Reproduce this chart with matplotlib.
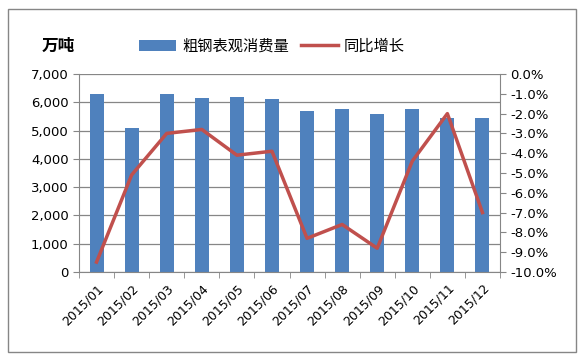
import numpy as np
import matplotlib
matplotlib.use('Agg')
from matplotlib import pyplot as plt
from matplotlib.patches import Rectangle
from matplotlib.ticker import FuncFormatter, FixedLocator

plt.rcParams['font.family'] = ['Noto Sans CJK SC', 'DejaVu Sans']

months = ['2015/01', '2015/02', '2015/03', '2015/04', '2015/05', '2015/06',
          '2015/07', '2015/08', '2015/09', '2015/10', '2015/11', '2015/12']
consumption = [6300, 5100, 6300, 6140, 6170, 6100, 5700, 5780, 5580, 5780, 5430, 5430]
yoy = [-9.5, -5.1, -3.0, -2.8, -4.1, -3.9, -8.3, -7.6, -8.8, -4.4, -2.0, -7.0]

bar_color = '#4f81bd'
line_color = '#c0504d'
axis_gray = '#868686'

fig = plt.figure(figsize=(5.85, 3.6), dpi=100)
ax = fig.add_axes([79 / 585, 1 - 272 / 360, 421 / 585, 198 / 360])
x = np.arange(len(months))

ax.bar(x, consumption, width=0.4, color=bar_color, zorder=2, label='粗钢表观消费量')
ax.set_xlim(-0.5, len(months) - 0.5)
ax.set_ylim(0, 7000)
ax.set_yticks(np.arange(0, 7001, 1000))
ax.yaxis.set_major_formatter(FuncFormatter(lambda v, p: f'{int(v):,}'))
ax.grid(axis='y', color=axis_gray, linewidth=0.9, zorder=0)
ax.set_xticks(x)
ax.set_xticklabels(months, rotation=45, ha='right', rotation_mode='anchor')
ax.xaxis.set_minor_locator(FixedLocator(np.arange(-0.5, len(months), 1)))
ax.tick_params(axis='x', which='major', length=0, labelsize=9, pad=7)
ax.tick_params(axis='x', which='minor', length=4, color=axis_gray)
ax.tick_params(axis='y', length=4, color=axis_gray, labelsize=9.5)
for s in ['top', 'right']:
    ax.spines[s].set_visible(False)
for s in ['left', 'bottom']:
    ax.spines[s].set_color(axis_gray)

ax2 = ax.twinx()
ax2.plot(x, yoy, color=line_color, linewidth=2.5, zorder=3, label='同比增长')
ax2.set_ylim(-10, 0)
ax2.set_yticks(np.arange(-10, 0.1, 1))
ax2.yaxis.set_major_formatter(FuncFormatter(lambda v, p: f'{v:.1f}%'))
ax2.tick_params(axis='y', length=4, color=axis_gray, labelsize=9.5)
for s in ['top', 'left', 'bottom']:
    ax2.spines[s].set_visible(False)
ax2.spines['right'].set_color(axis_gray)

# numbers in a Verdana-like face
for lbl in ax.get_xticklabels() + ax.get_yticklabels() + ax2.get_yticklabels():
    lbl.set_family('DejaVu Sans')

fig.text(42 / 585, 1 - 46 / 360, '万吨', fontsize=12, fontweight='bold', va='center')

h1, l1 = ax.get_legend_handles_labels()
h2, l2 = ax2.get_legend_handles_labels()
fig.legend(h1 + h2, l1 + l2, loc='center', bbox_to_anchor=(272 / 585, 1 - 46 / 360),
           ncol=2, frameon=False, fontsize=11, handlelength=2.4, columnspacing=0.8,
           handletextpad=0.4)

fig.patches.append(Rectangle((8 / 585, 8 / 360), 568 / 585, 343 / 360, transform=fig.transFigure,
                             fill=False, edgecolor=axis_gray, linewidth=1))

fig.savefig('out.png', dpi=100)
